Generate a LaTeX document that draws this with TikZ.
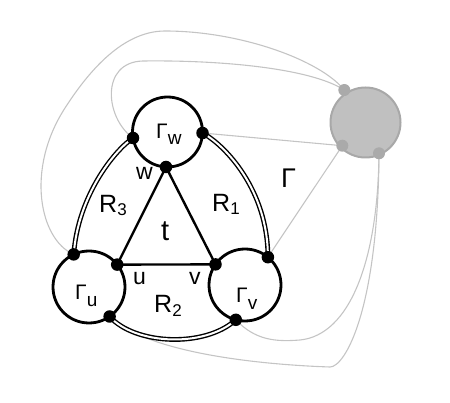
\documentclass[tikz,border=0pt]{standalone}
\usepackage{fontspec}
\setmainfont{Liberation Sans}
\newcommand\fs[1]{\fontsize{#1}{#1}\selectfont}
\begin{document}
\begin{tikzpicture}[x=1pt,y=-1pt,
  bdot/.style={circle,fill=black,inner sep=0pt,minimum size=12.5pt},
  gdot/.style={circle,fill=gdotc,inner sep=0pt,minimum size=12pt},
  bcirc/.style={circle,draw=black,line width=2.8pt,inner sep=0pt,minimum size=#1},
  dbl/.style={draw=black,line width=1.4pt,double=white,double distance=2pt},
  tri/.style={draw=black,line width=2.4pt},
  gline/.style={draw=glinec,line width=1.1pt},
  lbl/.style={inner sep=0pt,anchor=base west}]
\definecolor{gdotc}{HTML}{AAAAAA}
\definecolor{glinec}{HTML}{C4C4C4}
\definecolor{gfill}{HTML}{C0C0C0}
\definecolor{gedge}{HTML}{A8A8A8}
\useasboundingbox (0,0) rectangle (450,403);
% gray circle
\node[circle,draw=gedge,fill=gfill,line width=2pt,inner sep=0pt,minimum size=70pt] (G) at (365.5,122.5) {};
% black circles
\node[bcirc=70pt] (Cw) at (167.5,132) {};
\node[bcirc=72pt] (Cu) at (89,287) {};
\node[bcirc=72pt] (Cv) at (245,285) {};
% dot positions
\coordinate (pw) at (166,167);
\coordinate (pu) at (117.2,264.6);
\coordinate (pv) at (215.5,264.4);
\coordinate (pwl) at (133,138);
\coordinate (pwr) at (202.5,133);
\coordinate (pul) at (73.7,254.4);
\coordinate (pub) at (109.6,316.5);
\coordinate (pvr) at (267.9,257.2);
\coordinate (pvb) at (235.8,319.8);
\coordinate (pg1) at (344.3,90);
\coordinate (pg2) at (342.3,145.7);
\coordinate (pg3) at (379,153.3);
% gray lines
\draw[gline] (pul) .. controls (40,240) and (25,170) .. (65,108)
  .. controls (85,77) and (120,31) .. (165,31)
  .. controls (240,31) and (320,60) .. (pg1);
\draw[gline] (pwl) .. controls (105,118) and (100,62) .. (143,61)
  .. controls (220,60) and (310,68) .. (pg1);
\draw[gline] (pwr) -- (pg2);
\draw[gline] (pvr) -- (pg2);
\draw[gline] (pvb) .. controls (255,340) and (275,342) .. (300,340)
  .. controls (350,335) and (378,260) .. (pg3);
\draw[gline] (pub) .. controls (150,355) and (270,365) .. (330,367)
  .. controls (345,367) and (378,310) .. (pg3);
\node[gdot] (g1) at (pg1) {};
\node[gdot] (g2) at (pg2) {};
\node[gdot] (g3) at (pg3) {};
% double arcs
\draw[dbl] (pwl) .. controls (115,150) and (78,195) .. (pul);
\draw[dbl] (pwr) .. controls (225,145) and (268,190) .. (pvr);
\draw[dbl] (pub) .. controls (135,345) and (205,348) .. (pvb);
% triangle
\draw[tri] (pw) -- (pu) -- (pv) -- cycle;
% black dots
\node[bdot] (w) at (pw) {};
\node[bdot] (u) at (pu) {};
\node[bdot] (v) at (pv) {};
\node[bdot] (wl) at (pwl) {};
\node[bdot] (wr) at (pwr) {};
\node[bdot] (ul) at (pul) {};
\node[bdot] (ub) at (pub) {};
\node[bdot] (vr) at (pvr) {};
\node[bdot] (vb) at (pvb) {};
% labels
\node[lbl] (Lgw) at (156,139) {\fs{21}Γ\raisebox{-6pt}{\fs{19}w}};
\node[lbl] (Lgu) at (75,300) {\fs{21}Γ\raisebox{-7pt}{\fs{19}u}};
\node[lbl] (Lgv) at (236,303) {\fs{21}Γ\raisebox{-7pt}{\fs{19}v}};
\node[lbl] (Lg) at (281,188) {\fs{27}Γ};
\node[lbl] (R3) at (99,213) {\fs{25}R\raisebox{-2.5pt}{\fs{17}3}};
\node[lbl] (R1) at (212,212) {\fs{25}R\raisebox{-3pt}{\fs{17}1}};
\node[lbl] (R2) at (154,313) {\fs{25}R\raisebox{-4pt}{\fs{17}2}};
\node[lbl] (Lt) at (161,241) {\fs{29}t};
\node[lbl] (Lu) at (133,285) {\fs{23}u};
\node[lbl] (Lv) at (189,285) {\fs{23}v};
\node[lbl] (Lw) at (136,180) {\fs{23}w};
\end{tikzpicture}
\end{document}
